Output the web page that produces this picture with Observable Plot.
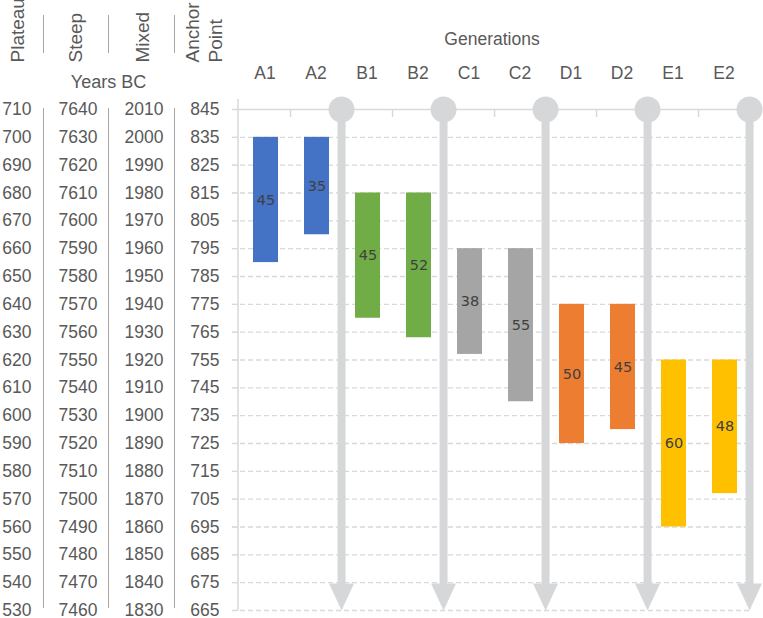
<!DOCTYPE html>
<html>
<head>
<meta charset="utf-8">
<script src="https://cdn.jsdelivr.net/npm/d3@7"></script>
<script src="https://cdn.jsdelivr.net/npm/@observablehq/plot@0.6"></script>
<style>
  html, body { margin: 0; padding: 0; background: #fff; }
</style>
</head>
<body>
<div id="chart"></div>
<script>
// ---- data ----
const generations = ["A1", "A2", "B1", "B2", "C1", "C2", "D1", "D2", "E1", "E2"];
const groups = ["A", "A", "B", "B", "C", "C", "D", "D", "E", "E"];
const startValues = [835, 835, 815, 815, 795, 795, 775, 775, 755, 755];
const durations = [45, 35, 45, 52, 38, 55, 50, 45, 60, 48];

const anchorTicks = [845, 835, 825, 815, 805, 795, 785, 775, 765, 755, 745, 735, 725, 715, 705, 695, 685, 675, 665];
const plateauTicks = [710, 700, 690, 680, 670, 660, 650, 640, 630, 620, 610, 600, 590, 580, 570, 560, 550, 540, 530];
const steepTicks = [7640, 7630, 7620, 7610, 7600, 7590, 7580, 7570, 7560, 7550, 7540, 7530, 7520, 7510, 7500, 7490, 7480, 7470, 7460];
const mixedTicks = [2010, 2000, 1990, 1980, 1970, 1960, 1950, 1940, 1930, 1920, 1910, 1900, 1890, 1880, 1870, 1860, 1850, 1840, 1830];

const groupNames = ["A", "B", "C", "D", "E"];
const groupColors = ["#4472C4", "#70AD47", "#A5A5A5", "#ED7D31", "#FFC000"];
const columnHeaders = ["Plateau", "Steep", "Mixed", "Anchor\nPoint"];
const axisTitle = "Years BC";
const generationsTitle = "Generations";

// ---- table built from arrays ----
const rows = generations.map((g, i) => ({
  gen: g,
  group: groups[i],
  top: startValues[i],
  bottom: startValues[i] - durations[i],
  mid: startValues[i] - durations[i] / 2,
  dur: durations[i]
}));
const arrowGens = generations.filter((d, i) => i % 2 === 1);

// ---- layout ----
const W = 763, H = 618, mL = 238, mR = 14, mT = 109, mB = 8;
const bw = (W - mL - mR) / generations.length;
const yTop = anchorTicks[0], yBottom = anchorTicks[anchorTicks.length - 1];
const gridColor = "#d9d9d9";
const arrowColor = "#d6d7d9";
const textColor = "#595959";
const fontStack = "'Liberation Sans', Arial, sans-serif";
const numSize = 17.5;

const lookup = (arr) => (d) => String(arr[anchorTicks.indexOf(d)]);

// arrowhead symbol (apex at origin, pointing down)
const arrowHead = {
  draw(ctx) {
    ctx.moveTo(-12.5, -27);
    ctx.lineTo(12.5, -27);
    ctx.lineTo(0, 0);
    ctx.closePath();
  }
};

function structure(index, scales, values, dims) {
  const g = d3.create("svg:g");
  const sep = g.append("g").attr("stroke", "#a6a6a6").attr("stroke-width", 1);
  for (const x of [43.5, 108.5, 174.5]) {
    sep.append("line").attr("x1", x).attr("x2", x).attr("y1", 15).attr("y2", 53);
    sep.append("line").attr("x1", x).attr("x2", x)
      .attr("y1", scales.y(yTop) - 1).attr("y2", scales.y(yBottom) - 2);
  }
  g.append("line")
    .attr("x1", dims.marginLeft).attr("x2", dims.marginLeft)
    .attr("y1", dims.marginTop - 10).attr("y2", scales.y(yBottom))
    .attr("stroke", gridColor).attr("stroke-width", 1.5);
  return g.node();
}

const headerDx = [-222, -164, -97, -35];
const headerMarks = columnHeaders.map((h, i) =>
  Plot.text([h], { text: d => d, frameAnchor: "top-left", dx: headerDx[i], dy: -47, rotate: -90, textAnchor: "start", lineAnchor: "middle", fontSize: 19, lineHeight: 1.2, fill: textColor })
);

const chart = Plot.plot({
  width: W,
  height: H,
  marginLeft: mL,
  marginRight: mR,
  marginTop: mT,
  marginBottom: mB,
  style: { fontFamily: fontStack, color: textColor, background: "#fff" },
  x: { type: "band", domain: generations, padding: 0, axis: null },
  y: { domain: [yBottom, yTop], axis: null },
  color: { domain: groupNames, range: groupColors },
  marks: [
    // dashed grid
    Plot.ruleY(anchorTicks.slice(1), { stroke: gridColor, strokeWidth: 1.3, strokeDasharray: "5,3", insetLeft: -6 }),
    // solid top line
    Plot.ruleY([yTop], { stroke: gridColor, strokeWidth: 1.5, insetLeft: -6 }),
    // top tick marks at category boundaries
    Plot.ruleX(generations, { x: d => d, y1: yTop, y2: yTop, insetBottom: -8, dx: bw / 2, stroke: gridColor, strokeWidth: 1.5 }),
    structure,
    // left axis ticks + anchor labels
    Plot.axisY({ anchor: "left", ticks: anchorTicks, tickSize: 6, tickPadding: 13, stroke: gridColor, fill: textColor, fontSize: numSize, label: null, tickFormat: d => String(d) }),
    Plot.axisY({ anchor: "left", ticks: anchorTicks, tickSize: 0, tickPadding: 75, fill: textColor, fontSize: numSize, label: null, tickFormat: lookup(mixedTicks) }),
    Plot.axisY({ anchor: "left", ticks: anchorTicks, tickSize: 0, tickPadding: 141, fill: textColor, fontSize: numSize, label: null, tickFormat: lookup(steepTicks) }),
    Plot.axisY({ anchor: "left", ticks: anchorTicks, tickSize: 0, tickPadding: 207, fill: textColor, fontSize: numSize, label: null, tickFormat: lookup(plateauTicks) }),
    // top category axis
    Plot.axisX({ anchor: "top", tickSize: 0, tickPadding: 31, fill: textColor, fontSize: 17.5, label: null }),
    // arrows
    Plot.ruleX(arrowGens, { x: d => d, y1: yTop, y2: yBottom, insetBottom: 20, dx: bw / 2, stroke: arrowColor, strokeWidth: 8 }),
    Plot.dot(arrowGens, { x: d => d, y: yTop, dx: bw / 2, r: 13, fill: arrowColor }),
    Plot.dot(arrowGens, { x: d => d, y: yBottom, dx: bw / 2, r: 10, fill: arrowColor, symbol: arrowHead }),
    // floating bars
    Plot.barY(rows, { x: "gen", y1: "bottom", y2: "top", fill: "group", insetLeft: 14, insetRight: 12 }),
    Plot.text(rows, { x: "gen", y: "mid", text: "dur", fill: "#404040", fontSize: 14.5, fontFamily: "DejaVu Sans", dx: 1 }),
    // headers
    ...headerMarks,
    Plot.text([axisTitle], { text: d => d, frameAnchor: "top-left", dx: -130, dy: -27, textAnchor: "middle", lineAnchor: "middle", fontSize: 18, fill: textColor }),
    Plot.text([generationsTitle], { text: d => d, frameAnchor: "top", dx: -2, dy: -70, textAnchor: "middle", lineAnchor: "middle", fontSize: 17.5, fill: textColor })
  ]
});

document.getElementById("chart").appendChild(chart);
</script>
</body>
</html>
